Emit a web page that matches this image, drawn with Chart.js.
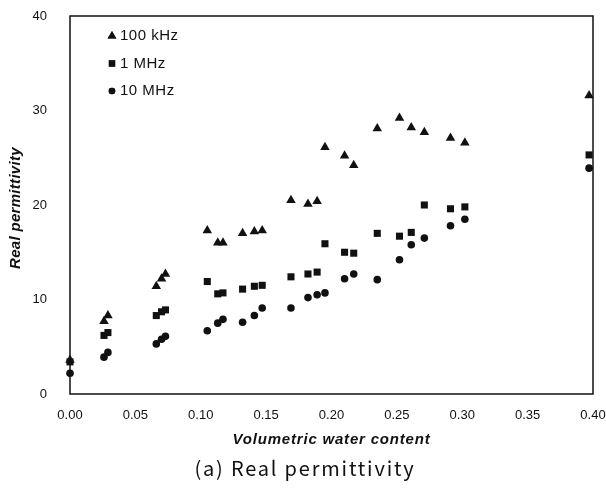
<!DOCTYPE html>
<html>
<head>
<meta charset="utf-8">
<script src="https://cdn.jsdelivr.net/npm/chart.js@4"></script>
<style>
  html, body { margin: 0; padding: 0; background: #fff; }
  #wrap { width: 606px; height: 490px; }
</style>
</head>
<body>
<div id="wrap"><canvas id="permChart" width="606" height="490"></canvas></div>
<script>
// volumetric water content (shared by the three frequencies)
const waterContent = [0, 0.026, 0.029, 0.066, 0.070, 0.073, 0.105, 0.113, 0.117, 0.132, 0.141, 0.147,
  0.169, 0.182, 0.189, 0.195, 0.210, 0.217, 0.235, 0.252, 0.261, 0.271, 0.291, 0.302, 0.397];

const perm100kHz = [3.6, 7.7, 8.3, 11.4, 12.2, 12.7, 17.3, 16.0, 16.0, 17.0, 17.2, 17.3,
  20.5, 20.1, 20.4, 26.1, 25.2, 24.2, 28.1, 29.2, 28.2, 27.7, 27.1, 26.6, 31.6];

const perm1MHz = [3.4, 6.2, 6.5, 8.3, 8.7, 8.9, 11.9, 10.6, 10.7, 11.1, 11.4, 11.5,
  12.4, 12.7, 12.9, 15.9, 15.0, 14.9, 17.0, 16.7, 17.1, 20.0, 19.6, 19.8, 25.3];

const perm10MHz = [2.2, 3.9, 4.4, 5.3, 5.8, 6.1, 6.7, 7.5, 7.9, 7.6, 8.3, 9.1,
  9.1, 10.2, 10.5, 10.7, 12.2, 12.7, 12.1, 14.2, 15.8, 16.5, 17.8, 18.5, 23.9];

const seriesLabels = ['100 kHz', '1 MHz', '10 MHz'];
const xTicks = [0, 0.05, 0.10, 0.15, 0.20, 0.25, 0.30, 0.35, 0.40];
const yTicks = [0, 10, 20, 30, 40];

const ink = '#111';
const sans = '"Liberation Sans", Arial, sans-serif';
const toPoints = ys => ys.map((y, i) => ({ x: waterContent[i], y: y }));

const styles = [
  { pointStyle: 'triangle', radius: 5.5 },
  { pointStyle: 'rect', radius: 5 },
  { pointStyle: 'circle', radius: 3.8 }
];

const datasets = [perm100kHz, perm1MHz, perm10MHz].map((ys, i) => ({
  label: seriesLabels[i],
  data: toPoints(ys),
  pointStyle: styles[i].pointStyle,
  pointRadius: styles[i].radius,
  pointBackgroundColor: ink,
  pointBorderColor: ink,
  pointBorderWidth: 0,
  clip: false
}));

// box around plot, axis titles, legend inside and caption
const extras = {
  id: 'extras',
  afterDraw(chart) {
    const { ctx, chartArea: a } = chart;
    ctx.save();
    ctx.strokeStyle = ink;
    ctx.lineWidth = 1.5;
    ctx.strokeRect(a.left, a.top, a.right - a.left, a.bottom - a.top);

    ctx.fillStyle = ink;
    ctx.textBaseline = 'middle';

    // legend
    ctx.font = '15px ' + sans;
    ctx.letterSpacing = '0.5px';
    seriesLabels.forEach((lab, i) => {
      const y = 36 + i * 27.5;
      Chart.helpers.drawPoint(ctx, { pointStyle: styles[i].pointStyle, radius: styles[i].radius - 0.5, borderWidth: 0 }, 112, y);
      ctx.fill();
      ctx.fillText(lab, 120, y);
    });

    // axis titles
    ctx.textAlign = 'center';
    ctx.font = 'italic bold 15px ' + sans;
    ctx.letterSpacing = '0.8px';
    ctx.fillText('Volumetric water content', (a.left + a.right) / 2, 440);
    ctx.save();
    ctx.translate(16, (a.top + a.bottom) / 2 + 3);
    ctx.rotate(-Math.PI / 2);
    ctx.letterSpacing = '0.3px';
    ctx.fillText('Real permittivity', 0, 0);
    ctx.restore();

    // caption
    ctx.font = '20px "Noto Sans CJK KR", "Liberation Sans", sans-serif';
    ctx.letterSpacing = '1.8px';
    ctx.fillText('(a) Real permittivity', 305, 468);
    ctx.restore();
  }
};

new Chart(document.getElementById('permChart').getContext('2d'), {
  type: 'scatter',
  data: { datasets: datasets },
  options: {
    responsive: false,
    animation: false,
    layout: { padding: { top: 16, right: 13, left: 0, bottom: 0 } },
    plugins: {
      legend: { display: false },
      tooltip: { enabled: false }
    },
    scales: {
      x: {
        type: 'linear',
        min: 0,
        max: 0.4,
        afterFit: s => { s.height = 96; s.paddingRight = 0; s.paddingLeft = 0; },
        afterBuildTicks: s => { s.ticks = xTicks.map(v => ({ value: v })); },
        grid: { display: false },
        border: { display: false },
        ticks: {
          color: ink,
          padding: 6,
          maxRotation: 0,
          font: { family: sans, size: 13 },
          callback: v => v.toFixed(2)
        }
      },
      y: {
        min: 0,
        max: 40,
        afterFit: s => { s.width = 70; s.paddingTop = 0; s.paddingBottom = 0; },
        afterBuildTicks: s => { s.ticks = yTicks.map(v => ({ value: v })); },
        grid: { display: false },
        border: { display: false },
        ticks: {
          color: ink,
          padding: 15,
          font: { family: sans, size: 13 }
        }
      }
    }
  },
  plugins: [extras]
});
</script>
</body>
</html>
